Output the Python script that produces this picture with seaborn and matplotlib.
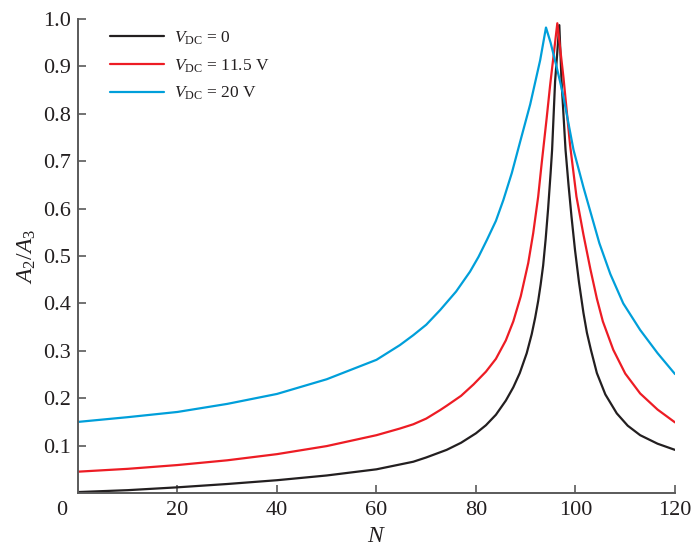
import matplotlib
matplotlib.use("Agg")
import matplotlib.pyplot as plt
import seaborn as sns
import pandas as pd

# Ratio A2/A3 versus N for three DC bias voltages
n_v0 = [0, 10, 20, 30, 40, 50, 60, 67.4, 70, 74.1, 77, 80, 82, 84, 86, 87.5,
        88.8, 90.2, 91.2, 91.9, 92.5, 93.0, 93.5, 94.0, 94.5, 95.0, 95.3, 95.9,
        96.75, 97.2, 98.0, 98.6, 99.2, 99.9, 100.7, 101.6, 102.3, 103.1, 104.3,
        106, 108.3, 110.5, 113, 116.5, 120]
a_v0 = [0.002, 0.006, 0.012, 0.019, 0.027, 0.037, 0.050, 0.066, 0.075, 0.091,
        0.106, 0.126, 0.143, 0.165, 0.195, 0.223, 0.253, 0.295, 0.335, 0.37,
        0.405, 0.44, 0.48, 0.535, 0.60, 0.675, 0.724, 0.868, 0.987, 0.868,
        0.724, 0.650, 0.583, 0.513, 0.445, 0.380, 0.338, 0.302, 0.253, 0.208,
        0.168, 0.142, 0.122, 0.104, 0.091]

n_v115 = [0, 10, 20, 30, 40, 50, 60, 64.7, 67.4, 70, 72.8, 74.1, 77, 79.5, 82,
          84, 86, 87.5, 89, 90.5, 91.5, 92.5, 93.2, 94.2, 94.9, 96.35, 97.6,
          98.9, 100.2, 101.6, 103, 104.3, 105.5, 107.6, 110, 113, 116.5, 120]
a_v115 = [0.045, 0.051, 0.059, 0.069, 0.082, 0.099, 0.122, 0.136, 0.145, 0.157,
          0.175, 0.184, 0.205, 0.229, 0.256, 0.283, 0.322, 0.362, 0.415, 0.485,
          0.548, 0.625, 0.695, 0.79, 0.86, 0.991, 0.875, 0.735, 0.625, 0.545,
          0.472, 0.410, 0.362, 0.302, 0.252, 0.210, 0.176, 0.149]

n_v20 = [0, 10, 20, 30, 40, 50, 60, 64.7, 67.4, 70, 72.8, 76, 78.8, 80.5, 82.2,
         84, 85.5, 87.2, 88.8, 90.9, 92.9, 94.07, 95.0, 96.2, 96.9, 97.5, 99.6,
         101.6, 104.8, 107, 109.6, 113, 116.5, 120]
a_v20 = [0.150, 0.160, 0.171, 0.188, 0.209, 0.240, 0.281, 0.312, 0.333, 0.355,
         0.386, 0.425, 0.467, 0.498, 0.534, 0.574, 0.618, 0.675, 0.738, 0.82,
         0.913, 0.982, 0.950, 0.899, 0.868, 0.840, 0.724, 0.645, 0.527, 0.462,
         0.400, 0.344, 0.295, 0.251]

labels = [r"$V_{\mathrm{DC}}$ = 0", r"$V_{\mathrm{DC}}$ = 11.5 V", r"$V_{\mathrm{DC}}$ = 20 V"]
colors = ["#231F20", "#ED1C24", "#009FDA"]

y_ticks = [0.1, 0.2, 0.3, 0.4, 0.5, 0.6, 0.7, 0.8, 0.9, 1.0]
x_ticks = [20, 40, 60, 80, 100, 120]

df = pd.concat([
    pd.DataFrame({"N": n_v0, "ratio": a_v0, "series": labels[0]}),
    pd.DataFrame({"N": n_v115, "ratio": a_v115, "series": labels[1]}),
    pd.DataFrame({"N": n_v20, "ratio": a_v20, "series": labels[2]}),
], ignore_index=True)

sns.set_style("ticks")
plt.rcParams["font.family"] = ["Liberation Serif", "DejaVu Serif"]
plt.rcParams["mathtext.fontset"] = "custom"
plt.rcParams["mathtext.rm"] = "Liberation Serif"
plt.rcParams["mathtext.it"] = "Liberation Serif:italic"

spine_col = "#5A5A5A"
text_col = "#231F20"
fig = plt.figure(figsize=(6.95, 5.47), dpi=100)
ax = fig.add_axes([0.1122, 0.0987, 0.859, 0.8666])

sns.lineplot(data=df, x="N", y="ratio", hue="series", palette=colors,
             hue_order=labels, sort=False, estimator=None, linewidth=1.6, ax=ax)

ax.set_xlim(0, 120)
ax.set_ylim(0, 1.0)
ax.set_xticks(x_ticks)
ax.set_yticks(y_ticks)
ax.set_yticklabels([f"{v:.1f}" for v in y_ticks])
ax.tick_params(direction="in", length=6, width=1.2, color=spine_col,
               labelsize=16, labelcolor=text_col)
ax.tick_params(axis="x", pad=6)
ax.tick_params(axis="y", pad=5)
for s in ["top", "right"]:
    ax.spines[s].set_visible(False)
for s in ["left", "bottom"]:
    ax.spines[s].set_color(spine_col)
    ax.spines[s].set_linewidth(1.4)

# shared origin label
ax.annotate("0", xy=(0, 0), xycoords="axes fraction", xytext=(-11.5, -6),
            textcoords="offset points", ha="center", va="top", fontsize=16,
            color=text_col)

ax.set_xlabel(r"$N$", fontsize=17, labelpad=4, color=text_col)
ax.set_ylabel(r"$A_2/A_3$", fontsize=17, labelpad=4, color=text_col)

leg = ax.legend(loc="upper left", bbox_to_anchor=(0.036, 1.0), frameon=False,
                fontsize=12.5, handlelength=3.1, handletextpad=0.6,
                labelspacing=0.6, borderaxespad=0.2)
for line in leg.get_lines():
    line.set_linewidth(1.6)
for t in leg.get_texts():
    t.set_color(text_col)

fig.savefig("out.png", dpi=100)
